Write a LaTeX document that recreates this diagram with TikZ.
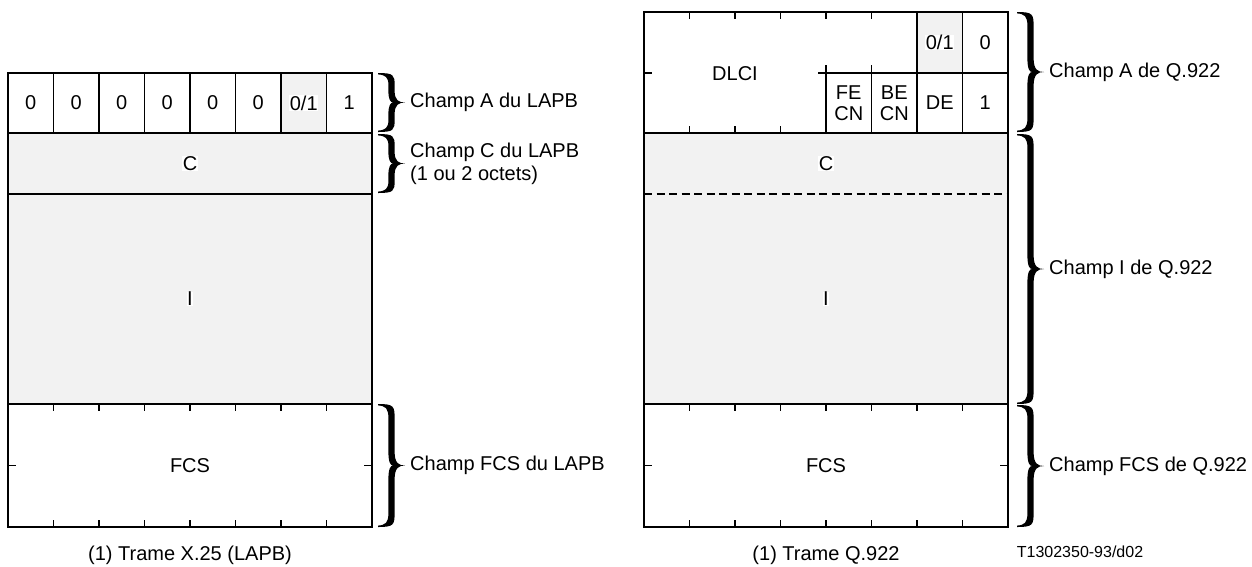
\documentclass[tikz,border=0pt]{standalone}
\usepackage{fontspec}
\setmainfont{Liberation Sans}
\usetikzlibrary{positioning}

\definecolor{cellgray}{RGB}{242,242,242}
\newcommand{\whitebox}[1]{{\setlength{\fboxsep}{0.6pt}\colorbox{white}{#1}}}
% filled curly brace: left x, top y, bottom y, name of the tip
\newcommand{\fieldbrace}[4]{%
  \pgfmathsetmacro\brM{(#2+#3)/2}%
  \pgfmathsetmacro\brC{#1+13.5}%
  \pgfmathsetmacro\brR{\brC+3.1}%
  \pgfmathsetmacro\brL{\brC-3.1}%
  \pgfmathsetmacro\brT{#1+27}%
  \pgfmathsetmacro\brQ{min(14,(#3-#2)/5)}%
  \fill (#1,#2) .. controls (\brR-1,#2) and (\brR,#2+2) .. (\brR,#2+\brQ)
    -- (\brR,\brM-\brQ) .. controls (\brR,\brM-2) and (\brT-6,\brM) .. (\brT,\brM)
    .. controls (\brT-6,\brM) and (\brR,\brM+2) .. (\brR,\brM+\brQ)
    -- (\brR,#3-\brQ) .. controls (\brR,#3-2) and (\brR-1,#3) .. (#1,#3)
    -- (#1,#3-1.4) .. controls (\brL-3,#3-2) and (\brL,#3-4) .. (\brL,#3-\brQ)
    -- (\brL,\brM+\brQ) .. controls (\brL,\brM+3) and (\brC-1,\brM) .. (\brC+1.5,\brM)
    .. controls (\brC-1,\brM) and (\brL,\brM-3) .. (\brL,\brM-\brQ)
    -- (\brL,#2+\brQ) .. controls (\brL,#2+4) and (\brL-3,#2+2) .. (#1,#2+1.4)
    -- cycle;
  \coordinate (#4) at (\brT,\brM);}

\begin{document}
\begin{tikzpicture}[x=1pt, y=-1pt,
    bitcell/.style={draw, line width=1.8pt, minimum width=45.5pt, minimum height=60pt, inner sep=0pt, outer sep=0pt},
    field/.style={draw, line width=1.8pt, minimum width=364pt, inner sep=0pt, outer sep=0pt, anchor=north west},
    tick/.style={line width=1.8pt},
    fieldlabel/.style={align=left, inner sep=0pt},
    font=\fontsize{20}{22}\selectfont]
    \useasboundingbox (0,0) rectangle (1252,566);

    % trame X.25 (LAPB)
    \node[bitcell] (x1) at (30.75,103) {0};
    \node[bitcell] (x2) [right=0pt of x1] {0};
    \node[bitcell] (x3) [right=0pt of x2] {0};
    \node[bitcell] (x4) [right=0pt of x3] {0};
    \node[bitcell] (x5) [right=0pt of x4] {0};
    \node[bitcell] (x6) [right=0pt of x5] {0};
    \node[bitcell, fill=cellgray] (x7) [right=0pt of x6] {\whitebox{0/1}};
    \node[bitcell] (x8) [right=0pt of x7] {1};
    \node[field, fill=cellgray, minimum height=61pt] (xc) at (x1.south west) {\whitebox{C}};
    \node[field, fill=cellgray, minimum height=210pt] (xi) at (xc.south west) {\whitebox{I}};
    \node[field, minimum height=123pt] (xf) at (xi.south west) {FCS};
    \foreach \i in {1,...,7} {
        \draw[tick] ([xshift=\i*45.5pt]xf.north west) -- +(0,7);
        \draw[tick] ([xshift=\i*45.5pt]xf.south west) -- +(0,-7);
    }
    \draw[tick] (xf.west) -- +(8,0);
    \draw[tick] (xf.east) -- +(-8,0);
    \node (capx) [below=15pt of xf] {(1) Trame X.25 (LAPB)};

    \fieldbrace{378}{73}{132}{bxa}
    \fieldbrace{378}{134}{193}{bxc}
    \fieldbrace{378}{404}{527}{bxf}
    \node[fieldlabel] (lxa) [right=5pt of bxa] {Champ A du LAPB};
    \node[fieldlabel, font=\fontsize{20}{23}\selectfont] (lxc) [right=5pt of bxc] {Champ C du LAPB\\(1 ou 2 octets)};
    \node[fieldlabel] (lxf) [right=5pt of bxf] {Champ FCS du LAPB};

    % trame Q.922
    \node[field, minimum height=121pt] (qa) at (644,12) {};
    \node[bitcell, minimum height=61pt, fill=cellgray] (q01) at (939.75,42.5) {\whitebox{0/1}};
    \node[bitcell, minimum height=61pt] (q0) [right=0pt of q01] {0};
    \node[bitcell] (qde) at (939.75,103) {DE};
    \node[bitcell] (q1) [right=0pt of qde] {1};
    \node[bitcell, align=center, font=\fontsize{20}{21}\selectfont] (qbe) [left=0pt of qde] {BE\\CN};
    \node[bitcell, align=center, font=\fontsize{20}{21}\selectfont] (qfe) [left=0pt of qbe] {FE\\CN};
    \node (dlci) at (735,74) {DLCI};
    \draw[tick] (qfe.north west) -- +(0,-8) (qfe.north west) -- +(-8,0) (qfe.north east) -- +(0,-8);
    \draw[tick] (qa.north west |- qfe.north west) -- +(8,0);
    \foreach \i in {1,...,5}
        \draw[tick] ([xshift=\i*45.5pt]qa.north west) -- +(0,7);
    \foreach \i in {1,2,3}
        \draw[tick] ([xshift=\i*45.5pt]qa.south west) -- +(0,-7);
    \node[field, fill=cellgray, minimum height=271pt] (qci) at (qa.south west) {};
    \draw[line width=1.8pt, dash pattern=on 8pt off 4.5pt] ([yshift=-61pt]qci.north west) -- ([yshift=-61pt]qci.north east);
    \node[fill=white, inner sep=0.6pt] (qc) at (826,163.5) {C};
    \node[fill=white, inner sep=0.6pt] (qi) at (826,299) {I};
    \node[field, minimum height=123pt] (qf) at (qci.south west) {FCS};
    \foreach \i in {1,...,7} {
        \draw[tick] ([xshift=\i*45.5pt]qf.north west) -- +(0,7);
        \draw[tick] ([xshift=\i*45.5pt]qf.south west) -- +(0,-7);
    }
    \draw[tick] (qf.west) -- +(8,0);
    \draw[tick] (qf.east) -- +(-8,0);
    \node (capq) [below=15pt of qf] {(1) Trame Q.922};
    \node[font=\fontsize{16}{18}\selectfont] (figref) at (1080,552) {T1302350-93/d02};

    \fieldbrace{1017}{12}{132}{bqa}
    \fieldbrace{1017}{134}{404}{bqi}
    \fieldbrace{1017}{405}{527}{bqf}
    \node[fieldlabel] (lqa) [right=5pt of bqa] {Champ A de Q.922};
    \node[fieldlabel] (lqi) [right=5pt of bqi] {Champ I de Q.922};
    \node[fieldlabel] (lqf) [right=5pt of bqf] {Champ FCS de Q.922};
\end{tikzpicture}
\end{document}
